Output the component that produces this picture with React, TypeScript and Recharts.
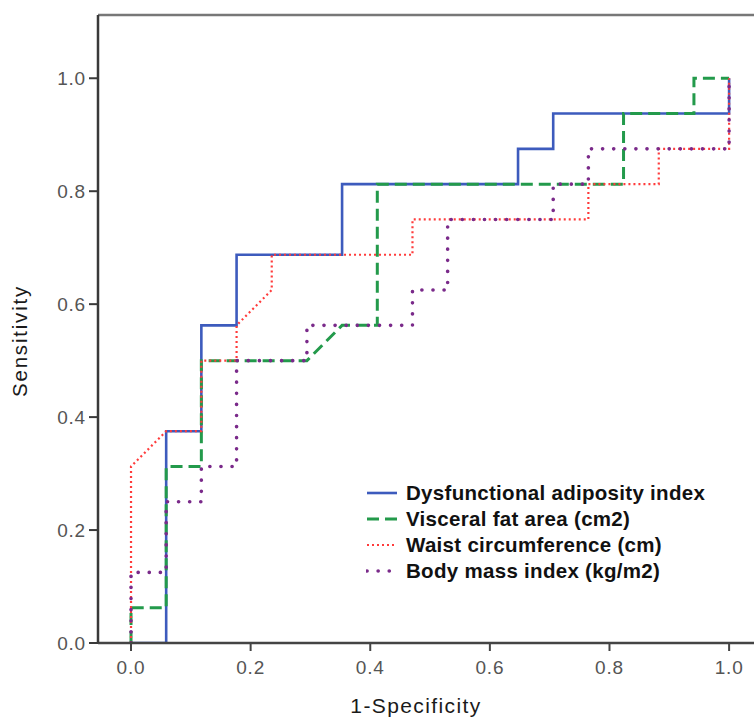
import React from 'react';
import { LineChart, Line, XAxis, YAxis, ReferenceLine, Legend } from 'recharts';

const xTicks = [0, 0.2, 0.4, 0.6, 0.8, 1.0];
const yTicks = [0, 0.2, 0.4, 0.6, 0.8, 1.0];

const daiPoints = [
  { fpr: 0, tpr: 0 }, { fpr: 0.0588, tpr: 0 }, { fpr: 0.0588, tpr: 0.375 },
  { fpr: 0.1176, tpr: 0.375 }, { fpr: 0.1176, tpr: 0.5625 }, { fpr: 0.1765, tpr: 0.5625 },
  { fpr: 0.1765, tpr: 0.6875 }, { fpr: 0.3529, tpr: 0.6875 }, { fpr: 0.3529, tpr: 0.8125 },
  { fpr: 0.6471, tpr: 0.8125 }, { fpr: 0.6471, tpr: 0.875 }, { fpr: 0.7059, tpr: 0.875 },
  { fpr: 0.7059, tpr: 0.9375 }, { fpr: 1, tpr: 0.9375 }, { fpr: 1, tpr: 1 },
];

const vfaPoints = [
  { fpr: 0, tpr: 0 }, { fpr: 0, tpr: 0.0625 }, { fpr: 0.0588, tpr: 0.0625 },
  { fpr: 0.0588, tpr: 0.3125 }, { fpr: 0.1176, tpr: 0.3125 }, { fpr: 0.1176, tpr: 0.5 },
  { fpr: 0.2941, tpr: 0.5 }, { fpr: 0.3529, tpr: 0.5625 }, { fpr: 0.4118, tpr: 0.5625 },
  { fpr: 0.4118, tpr: 0.8125 }, { fpr: 0.8235, tpr: 0.8125 }, { fpr: 0.8235, tpr: 0.9375 },
  { fpr: 0.9412, tpr: 0.9375 }, { fpr: 0.9412, tpr: 1 }, { fpr: 1, tpr: 1 },
];

const wcPoints = [
  { fpr: 0, tpr: 0 }, { fpr: 0, tpr: 0.3125 }, { fpr: 0.0588, tpr: 0.375 },
  { fpr: 0.1176, tpr: 0.375 }, { fpr: 0.1176, tpr: 0.5 }, { fpr: 0.1765, tpr: 0.5 },
  { fpr: 0.1765, tpr: 0.5625 }, { fpr: 0.2353, tpr: 0.625 }, { fpr: 0.2353, tpr: 0.6875 },
  { fpr: 0.4706, tpr: 0.6875 }, { fpr: 0.4706, tpr: 0.75 }, { fpr: 0.7647, tpr: 0.75 },
  { fpr: 0.7647, tpr: 0.8125 }, { fpr: 0.8824, tpr: 0.8125 }, { fpr: 0.8824, tpr: 0.875 },
  { fpr: 1, tpr: 0.875 }, { fpr: 1, tpr: 1 },
];

const bmiPoints = [
  { fpr: 0, tpr: 0 }, { fpr: 0, tpr: 0.125 }, { fpr: 0.0588, tpr: 0.125 },
  { fpr: 0.0588, tpr: 0.25 }, { fpr: 0.1176, tpr: 0.25 }, { fpr: 0.1176, tpr: 0.3125 },
  { fpr: 0.1765, tpr: 0.3125 }, { fpr: 0.1765, tpr: 0.5 }, { fpr: 0.2941, tpr: 0.5 },
  { fpr: 0.2941, tpr: 0.5625 }, { fpr: 0.4706, tpr: 0.5625 }, { fpr: 0.4706, tpr: 0.625 },
  { fpr: 0.5294, tpr: 0.625 }, { fpr: 0.5294, tpr: 0.75 }, { fpr: 0.7059, tpr: 0.75 },
  { fpr: 0.7059, tpr: 0.8125 }, { fpr: 0.7647, tpr: 0.8125 }, { fpr: 0.7647, tpr: 0.875 },
  { fpr: 1, tpr: 0.875 }, { fpr: 1, tpr: 1 },
];

const seriesNames = [
  'Dysfunctional adiposity index',
  'Visceral fat area (cm2)',
  'Waist circumference (cm)',
  'Body mass index (kg/m2)',
];

const FONT = '"Liberation Sans", Arial, sans-serif';

const styles = [
  { color: '#3d5bbd', width: 2.6, dash: undefined as string | undefined, cap: 'butt' },
  { color: '#239a4b', width: 3, dash: '12 6', cap: 'butt' },
  { color: '#ff3b3b', width: 2.2, dash: '2 3', cap: 'butt' },
  { color: '#7a2a8a', width: 3.6, dash: '0.1 11', cap: 'round' },
];

const seriesData = [daiPoints, vfaPoints, wcPoints, bmiPoints];

const renderLegend = () => (
  <div style={{ fontFamily: FONT, fontSize: 20.5, fontWeight: 'bold', color: '#111', letterSpacing: 0.3 }}>
    {seriesNames.map((name, i) => (
      <div key={name} style={{ display: 'flex', alignItems: 'center', height: 26 }}>
        <svg width={32} height={10} style={{ marginRight: 8 }}>
          <line x1={1} y1={5} x2={31} y2={5} stroke={styles[i].color} strokeWidth={styles[i].width}
            strokeDasharray={styles[i].dash} strokeLinecap={styles[i].cap as any} />
        </svg>
        <span>{name}</span>
      </div>
    ))}
  </div>
);

const XLabel = (props: any) => {
  const vb = props.viewBox || {};
  return (
    <text x={vb.x + vb.width / 2 - 14} y={713} textAnchor="middle" fontFamily={FONT}
      fontSize={21} letterSpacing={1.4} fill="#1a1a1a">1-Specificity</text>
  );
};

const YLabel = (props: any) => {
  const vb = props.viewBox || {};
  const cx = 27;
  const cy = vb.y + vb.height / 2 + 12;
  return (
    <text x={cx} y={cy} transform={`rotate(-90, ${cx}, ${cy})`} textAnchor="middle" fontFamily={FONT}
      fontSize={20.5} letterSpacing={1.8} fill="#1a1a1a">Sensitivity</text>
  );
};

export default function App() {
  return (
    <div style={{ position: 'absolute', left: 0, top: 0, width: 754, height: 719, overflow: 'hidden', background: '#fff' }}>
      <LineChart width={770} height={719} margin={{ top: 15, right: 8, bottom: 36, left: 38 }}>
        <XAxis
          dataKey="fpr"
          type="number"
          domain={[-0.0552, 1.055]}
          ticks={xTicks}
          allowDataOverflow
          height={40}
          tickSize={8}
          tickMargin={10}
          tickFormatter={(v: number) => v.toFixed(1)}
          tick={{ fontFamily: FONT, fontSize: 19, fill: '#555', letterSpacing: 0.8 }}
          axisLine={{ stroke: '#444', strokeWidth: 2.5 }}
          tickLine={{ stroke: '#444', strokeWidth: 2 }}
          label={<XLabel />}
        />
        <YAxis
          dataKey="tpr"
          type="number"
          domain={[0, 1.112]}
          ticks={yTicks}
          allowDataOverflow
          width={60}
          tickSize={9}
          tickMargin={3}
          tickFormatter={(v: number) => v.toFixed(1)}
          tick={{ fontFamily: FONT, fontSize: 19, fill: '#555', letterSpacing: 0.8 }}
          axisLine={{ stroke: '#3a3a3a', strokeWidth: 2.5 }}
          tickLine={{ stroke: '#3a3a3a', strokeWidth: 2 }}
          label={<YLabel />}
        />
        <ReferenceLine y={1.112} stroke="#777" strokeWidth={2.6} ifOverflow="visible" />
        {seriesData.map((d, i) => (
          <Line
            key={seriesNames[i]}
            name={seriesNames[i]}
            data={d}
            dataKey="tpr"
            type="linear"
            stroke={styles[i].color}
            strokeWidth={styles[i].width}
            strokeDasharray={styles[i].dash}
            strokeLinecap={styles[i].cap as any}
            dot={false}
            activeDot={false}
            isAnimationActive={false}
          />
        ))}
        <Legend
          layout="horizontal"
          verticalAlign="middle"
          align="center"
          content={renderLegend}
          wrapperStyle={{ position: 'absolute', left: 366, top: 480, width: 400, height: 110 }}
        />
      </LineChart>
    </div>
  );
}
